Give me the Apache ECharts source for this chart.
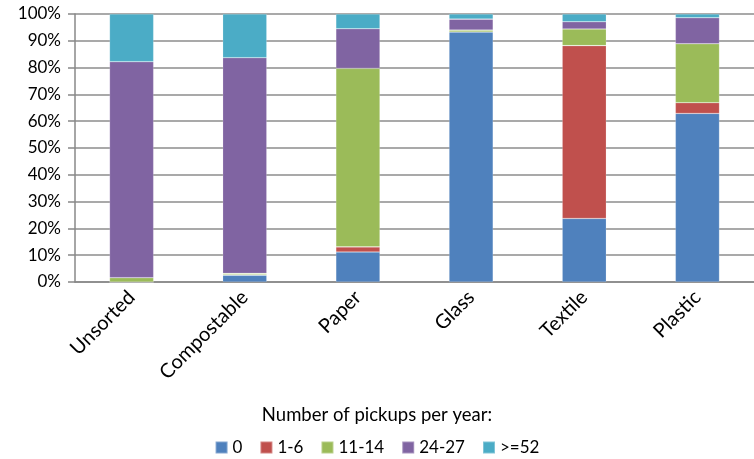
<!DOCTYPE html>
<html>
<head>
<meta charset="utf-8">
<script src="https://cdn.jsdelivr.net/npm/echarts@6/dist/echarts.min.js"></script>
<style>
  html, body { margin: 0; padding: 0; background: #fff; }
  #chart { width: 754px; height: 459px; }
</style>
</head>
<body>
<div id="chart"></div>
<script>
// waste streams, share of households by pickups per year (%)
const categories = ["Unsorted", "Compostable", "Paper", "Glass", "Textile", "Plastic"];
const seriesNames = ["0", "1-6", "11-14", "24-27", ">=52"];

const pickups0    = [0,    2.5,  11.2, 93.3, 23.7, 62.9];
const pickups1_6  = [0,    0.2,  1.9,  0,    64.5, 4.0];
const pickups11_14 = [1.6, 0.5,  66.6, 0.7,  6.2,  22.0];
const pickups24_27 = [80.6, 80.5, 14.8, 4.1,  2.7,  9.7];
const pickups52   = [17.8, 16.3, 5.5,  1.9,  2.9,  1.4];

const yTicks = { min: 0, max: 100, interval: 10 };

const COLORS = ["#4F81BD", "#C0504D", "#9BBB59", "#8064A2", "#4BACC6"];
const FONT = "Lato";

const values = [pickups0, pickups1_6, pickups11_14, pickups24_27, pickups52];

const chart = echarts.init(document.getElementById("chart"));

chart.setOption({
  animation: false,
  textStyle: { fontFamily: FONT },
  grid: { left: 75, right: -7, top: 14, bottom: 177 },
  title: {
    text: "Number of pickups per year:",
    left: "center",
    top: 401,
    textStyle: { fontFamily: FONT, fontSize: 18.5, fontWeight: "normal", color: "#000" },
  },
  legend: {
    data: seriesNames,
    top: 434,
    left: "center",
    itemWidth: 12,
    itemHeight: 12,
    itemGap: 17,
    icon: "rect",
    textStyle: { fontFamily: FONT, fontSize: 17, color: "#000" },
  },
  xAxis: {
    type: "category",
    data: categories,
    axisLine: { lineStyle: { color: "#888", width: 1.5 } },
    axisTick: { alignWithLabel: false, length: 6, lineStyle: { color: "#888", width: 1.5 } },
    axisLabel: { rotate: 45, fontSize: 20, color: "#000", margin: 12, fontFamily: FONT },
  },
  yAxis: {
    type: "value",
    min: yTicks.min,
    max: yTicks.max,
    interval: yTicks.interval,
    axisLine: { show: true, lineStyle: { color: "#888", width: 1.5 } },
    axisTick: { show: true, length: 7, lineStyle: { color: "#888", width: 1.5 } },
    axisLabel: { formatter: "{value}%", fontSize: 17, color: "#000", margin: 14, fontFamily: FONT },
    splitLine: { lineStyle: { color: "#8c8c8c", width: 1.5 } },
  },
  series: seriesNames.map((name, i) => ({
    name,
    type: "bar",
    stack: "total",
    barWidth: "39%",
    itemStyle: { color: COLORS[i], borderColor: "rgba(255,255,255,0.3)", borderWidth: 0.6 },
    data: values[i],
  })),
});
</script>
</body>
</html>
